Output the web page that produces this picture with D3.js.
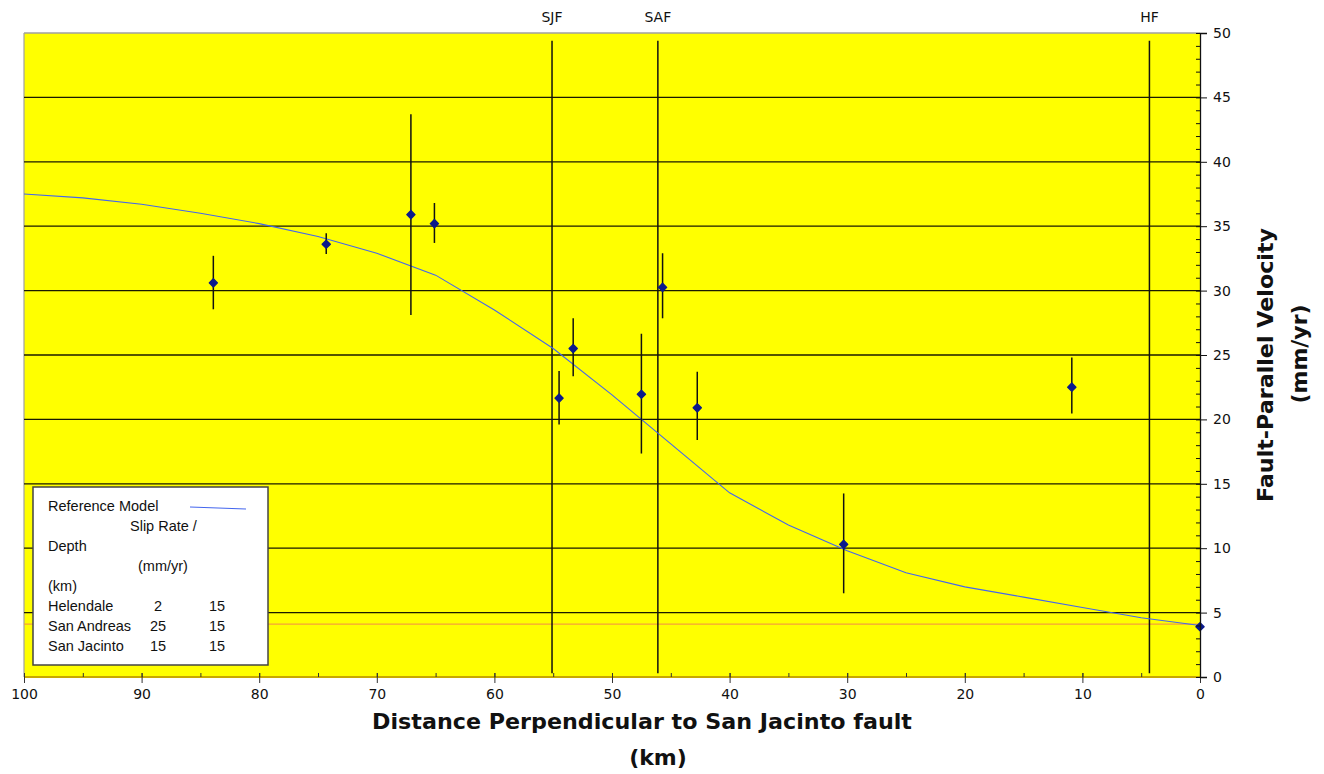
<!DOCTYPE html>
<html>
<head>
<meta charset="utf-8">
<script src="https://cdn.jsdelivr.net/npm/d3@7"></script>
<style>
body{margin:0;background:#fff;}
svg{display:block;}
</style>
</head>
<body>
<svg id="chart" width="1324" height="774"></svg>
<script>
// ---- data ----
const obsDistance = [83.9, 74.3, 67.1, 65.1, 54.5, 53.3, 47.5, 45.7, 42.75, 30.3, 10.9, 0];
const obsVelocity = [30.6, 33.6, 35.9, 35.2, 21.65, 25.5, 21.95, 30.25, 20.9, 10.3, 22.5, 3.9];
const obsErrTop   = [32.7, 34.45, 43.7, 36.8, 23.75, 27.85, 26.65, 32.9, 23.7, 14.25, 24.8, null];
const obsErrBot   = [28.55, 32.85, 28.1, 33.7, 19.6, 23.35, 17.35, 27.85, 18.4, 6.5, 20.45, null];

const modelDistance = [100, 95, 90, 85, 80, 75, 70, 65, 60, 55, 50, 45, 40, 35, 30, 25, 20, 15, 10, 5, 0];
const modelVelocity = [37.5, 37.2, 36.7, 36.0, 35.2, 34.2, 32.9, 31.2, 28.5, 25.5, 21.9, 18.1, 14.3, 11.8, 9.8, 8.1, 7.0, 6.2, 5.4, 4.6, 4.0];

const faultNames = ["SJF", "SAF", "HF"];
const faultDistance = [55.1, 46.1, 4.3];
const faultTop = [49.4, 49.4, 49.4];
const faultBottom = [0.3, 0.3, 0.3];

const xTicks = [100, 90, 80, 70, 60, 50, 40, 30, 20, 10, 0];
const yTicks = [0, 5, 10, 15, 20, 25, 30, 35, 40, 45, 50];
const gridValues = [5, 10, 15, 20, 25, 30, 35, 40, 45];
const refLineValue = 4.1;

const legendRows = [
  {name: "Helendale", slip: "2", depth: "15"},
  {name: "San Andreas", slip: "25", depth: "15"},
  {name: "San Jacinto", slip: "15", depth: "15"}
];

// ---- layout ----
const svg = d3.select("#chart");
const L = 24, R = 1200, T = 33, B = 677;
const x = d3.scaleLinear().domain([100, 0]).range([L, R]);
const y = d3.scaleLinear().domain([0, 50]).range([B, T]);

// plot background
svg.append("rect").attr("x", L).attr("y", T).attr("width", R - L).attr("height", B - T).attr("fill", "#ffff00");
// top and left border
svg.append("line").attr("x1", L).attr("x2", R).attr("y1", T).attr("y2", T).attr("stroke", "#a0a0a0").attr("stroke-width", 1.5);
svg.append("line").attr("x1", L).attr("x2", L).attr("y1", T).attr("y2", B).attr("stroke", "#a0a0a0").attr("stroke-width", 1.2);

// reference faint line
svg.append("line").attr("x1", L).attr("x2", R).attr("y1", y(refLineValue)).attr("y2", y(refLineValue))
  .attr("stroke", "#f4a23a").attr("stroke-width", 1.2);

// grid lines
svg.append("g").selectAll("line").data(gridValues).join("line")
  .attr("x1", L).attr("x2", R).attr("y1", d => y(d)).attr("y2", d => y(d))
  .attr("stroke", "#1a1a00").attr("stroke-width", 1.3);

// fault lines
svg.append("g").selectAll("line").data(faultDistance).join("line")
  .attr("x1", d => x(d)).attr("x2", d => x(d))
  .attr("y1", (d, i) => y(faultTop[i])).attr("y2", (d, i) => y(faultBottom[i]))
  .attr("stroke", "#111").attr("stroke-width", 1.5);
svg.append("g").selectAll("text").data(faultNames).join("text")
  .attr("x", (d, i) => x(faultDistance[i])).attr("y", 22)
  .attr("text-anchor", "middle").attr("font-family", "DejaVu Sans, sans-serif").attr("font-size", 14)
  .attr("fill", "#111").text(d => d);

// model curve
const line = d3.line().x(d => x(d[0])).y(d => y(d[1]));
svg.append("path").datum(modelDistance.map((d, i) => [d, modelVelocity[i]]))
  .attr("d", line).attr("fill", "none").attr("stroke", "#4466ee").attr("stroke-width", 1.1);

// error bars
const obs = obsDistance.map((d, i) => ({d, v: obsVelocity[i], t: obsErrTop[i], b: obsErrBot[i]}));
svg.append("g").selectAll("line").data(obs.filter(o => o.t != null)).join("line")
  .attr("x1", o => x(o.d)).attr("x2", o => x(o.d)).attr("y1", o => y(o.t)).attr("y2", o => y(o.b))
  .attr("stroke", "#111").attr("stroke-width", 1.5);
// markers (square rotated 45° = compact diamond)
svg.append("g").selectAll("path").data(obs).join("path")
  .attr("transform", o => `translate(${x(o.d)},${y(o.v)}) rotate(45)`)
  .attr("d", d3.symbol().type(d3.symbolSquare).size(34))
  .attr("fill", "#0a1a8c").attr("stroke", "#0a1a8c").attr("stroke-width", 1.3).attr("stroke-linejoin", "round");

// bottom axis
svg.append("line").attr("x1", L).attr("x2", R).attr("y1", B).attr("y2", B)
  .attr("stroke", "#c8a800").attr("stroke-width", 2);
const xAxis = svg.append("g").attr("transform", `translate(0,${B})`)
  .call(d3.axisBottom(x).tickValues(xTicks).tickSize(6).tickFormat(d3.format("d")));
xAxis.select(".domain").remove();
xAxis.selectAll(".tick line").attr("stroke", "#333").attr("y1", -4);
xAxis.selectAll(".tick text").attr("font-family", "DejaVu Sans, sans-serif").attr("font-size", 14).attr("fill", "#111").attr("dy", "0.9em");
const xMinor = svg.append("g").attr("transform", `translate(0,${B})`)
  .call(d3.axisTop(x).tickValues(d3.range(0, 101, 5)).tickSize(4).tickFormat(""));
xMinor.select(".domain").remove();
xMinor.selectAll(".tick line").attr("stroke", "#333");

// right axis
const yAxis = svg.append("g").attr("transform", `translate(${R},0)`)
  .call(d3.axisRight(y).tickValues(yTicks).tickSize(7).tickPadding(6));
yAxis.select(".domain").attr("stroke", "#111").attr("stroke-width", 1.3);
yAxis.selectAll(".tick line").attr("stroke", "#111");
yAxis.selectAll(".tick text").attr("font-family", "DejaVu Sans, sans-serif").attr("font-size", 14).attr("fill", "#111");
const yMinor = svg.append("g").attr("transform", `translate(${R},0)`)
  .call(d3.axisLeft(y).tickValues(d3.range(0, 51, 1)).tickSize(4).tickFormat(""));
yMinor.select(".domain").remove();
yMinor.selectAll(".tick line").attr("stroke", "#111");

// axis titles
svg.append("text").attr("x", 642).attr("y", 729).attr("text-anchor", "middle")
  .attr("font-family", "DejaVu Sans, sans-serif").attr("font-weight", "bold").attr("font-size", 22)
  .attr("textLength", 540).attr("lengthAdjust", "spacingAndGlyphs")
  .attr("fill", "#111").text("Distance Perpendicular to San Jacinto fault");
svg.append("text").attr("x", 658).attr("y", 765).attr("text-anchor", "middle")
  .attr("font-family", "DejaVu Sans, sans-serif").attr("font-weight", "bold").attr("font-size", 22)
  .attr("fill", "#111").text("(km)");
svg.append("text").attr("transform", "translate(1273,365) rotate(-90)").attr("text-anchor", "middle")
  .attr("font-family", "DejaVu Sans, sans-serif").attr("font-weight", "bold").attr("font-size", 22)
  .attr("textLength", 274).attr("lengthAdjust", "spacingAndGlyphs")
  .attr("fill", "#111").text("Fault-Parallel Velocity");
svg.append("text").attr("transform", "translate(1307,354) rotate(-90)").attr("text-anchor", "middle")
  .attr("font-family", "DejaVu Sans, sans-serif").attr("font-weight", "bold").attr("font-size", 22)
  .attr("fill", "#111").text("(mm/yr)");

// legend
const lg = svg.append("g");
lg.append("rect").attr("x", 33).attr("y", 487).attr("width", 235).attr("height", 178)
  .attr("fill", "#fff").attr("stroke", "#444").attr("stroke-width", 1.5);
const lf = "Liberation Sans, Arial, sans-serif";
function lt(tx, ty, s) {
  lg.append("text").attr("x", tx).attr("y", ty).attr("font-family", lf).attr("font-size", 14.5).attr("fill", "#111").text(s);
}
lt(48, 511, "Reference Model");
lg.append("line").attr("x1", 190).attr("x2", 246).attr("y1", 507).attr("y2", 509).attr("stroke", "#4466ee").attr("stroke-width", 1.1);
lt(130, 531, "Slip Rate /");
lt(48, 551, "Depth");
lt(138, 571, "(mm/yr)");
lt(48, 591, "(km)");
legendRows.forEach((r, i) => {
  const by = 611 + i * 20;
  lt(48, by, r.name);
  lt(r.slip.length === 1 ? 154 : 150, by, r.slip);
  lt(209, by, r.depth);
});
</script>
</body>
</html>
